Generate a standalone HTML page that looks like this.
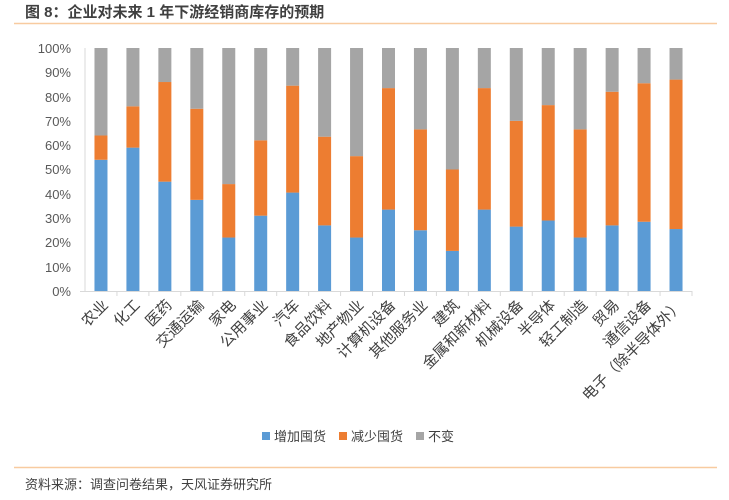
<!DOCTYPE html>
<html><head><meta charset="utf-8"><style>
body{margin:0;background:#fff;}
svg{display:block;font-family:"Liberation Sans","Noto Sans CJK SC",sans-serif;}
</style></head><body>
<svg width="729" height="500" viewBox="0 0 729 500" xmlns="http://www.w3.org/2000/svg">
<text x="25" y="17" font-size="15" font-weight="bold" fill="#404040">图 8：企业对未来 1 年下游经销商库存的预期</text>
<line x1="14" y1="23.5" x2="717" y2="23.5" stroke="#f8cba0" stroke-width="1.5"/>
<g font-size="13" fill="#595959" text-anchor="end">
<text x="71" y="296">0%</text><text x="71" y="272">10%</text><text x="71" y="247">20%</text><text x="71" y="223">30%</text><text x="71" y="199">40%</text><text x="71" y="174">50%</text><text x="71" y="150">60%</text><text x="71" y="126">70%</text><text x="71" y="102">80%</text><text x="71" y="77">90%</text><text x="71" y="53">100%</text>
</g>
<g stroke="#d9d9d9" stroke-width="1">
<line x1="85" y1="48" x2="85" y2="291"/>
<line x1="80" y1="291.5" x2="692" y2="291.5"/>
</g>
<g id="bars"></g>
<g id="ticks" stroke="#d9d9d9"></g>
<g id="labels" font-size="15" fill="#404040" text-anchor="end"></g>
<rect x="262" y="432" width="8" height="8" fill="#5b9bd5"/><text x="274" y="441" font-size="13" fill="#404040">增加囤货</text>
<rect x="339" y="432" width="8" height="8" fill="#ed7d31"/><text x="351" y="441" font-size="13" fill="#404040">减少囤货</text>
<rect x="416" y="432" width="8" height="8" fill="#a5a5a5"/><text x="428" y="441" font-size="13" fill="#404040">不变</text>
<line x1="14" y1="467.5" x2="717" y2="467.5" stroke="#f8cba0" stroke-width="1.5"/>
<text x="25" y="489" font-size="13" fill="#404040">资料来源：调查问卷结果，天风证券研究所</text>
<script>
var d=[["农业",54,64],["化工",59,76],["医药",45,86],["交通运输",37.5,75],["家电",22,44],["公用事业",31,62],["汽车",40.5,84.5],["食品饮料",27,63.5],["地产物业",22,55.5],["计算机设备",33.5,83.5],["其他服务业",25,66.5],["建筑",16.5,50],["金属和新材料",33.5,83.5],["机械设备",26.5,70],["半导体",29,76.5],["轻工制造",22,66.5],["贸易",27,82],["通信设备",28.5,85.5],["电子（除半导体外）",25.5,87]];
var ns="http://www.w3.org/2000/svg",b=document.getElementById("bars"),t=document.getElementById("ticks"),l=document.getElementById("labels");
var y0=291,h=243,w=(692-85)/19;
function r(x,y1,y2,c){var e=document.createElementNS(ns,"rect");e.setAttribute("x",x);e.setAttribute("y",y2);e.setAttribute("width",13);e.setAttribute("height",y1-y2);e.setAttribute("fill",c);b.appendChild(e);}
for(var i=0;i<19;i++){var cx=85+w*(i+0.5),x=cx-6.5;
var yb=y0-d[i][1]/100*h,yo=y0-d[i][2]/100*h,yt=y0-h;
r(x,y0,yb,"#5b9bd5");r(x,yb,yo,"#ed7d31");r(x,yo,yt,"#a5a5a5");
var k=document.createElementNS(ns,"line");k.setAttribute("x1",85+w*(i+1));k.setAttribute("x2",85+w*(i+1));k.setAttribute("y1",291);k.setAttribute("y2",296);t.appendChild(k);
var tx=document.createElementNS(ns,"text");tx.setAttribute("transform","translate("+(cx+8)+",306) rotate(-45)");tx.textContent=d[i][0];l.appendChild(tx);}
</script>
</svg>
</body></html>
